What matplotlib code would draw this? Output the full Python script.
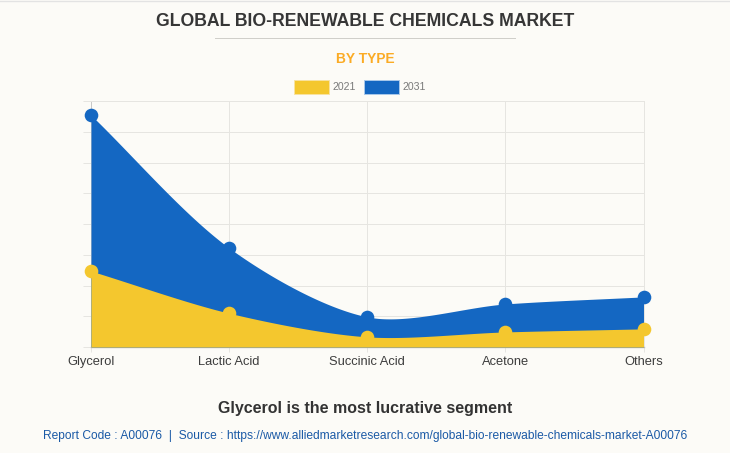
import numpy as np
import matplotlib
matplotlib.use("Agg")
import matplotlib.pyplot as plt
from matplotlib.patches import Patch

categories = ["Glycerol", "Lactic Acid", "Succinic Acid", "Acetone", "Others"]
values_2021 = [2.47, 1.10, 0.33, 0.49, 0.59]
values_2031 = [7.54, 3.22, 0.98, 1.40, 1.63]

W, H = 730, 453
BG = "#fcfbf7"
YELLOW = "#f4c72e"
BLUE = "#1467c2"
GRID = "#e6e5e1"


def smooth_curve(xs, ys, tension=0.3, steps=60):
    """Bezier spline through the points, same way Chart.js does it"""
    pts = np.column_stack([xs, ys]).astype(float)
    n = len(pts)
    out = []
    ctrl_prev = []
    ctrl_next = []
    for i in range(n):
        prev = pts[max(i - 1, 0)]
        cur = pts[i]
        nxt = pts[min(i + 1, n - 1)]
        # distances taken in pixels so the shape matches the screen
        d01 = np.hypot(*((cur - prev) * [138.1, 30.75]))
        d12 = np.hypot(*((nxt - cur) * [138.1, 30.75]))
        total = d01 + d12
        s01 = d01 / total
        s12 = d12 / total
        ctrl_prev.append(cur - tension * s01 * (nxt - prev))
        ctrl_next.append(cur + tension * s12 * (nxt - prev))
    t = np.linspace(0, 1, steps)[:, None]
    for i in range(n - 1):
        p0, p1, p2, p3 = pts[i], ctrl_next[i], ctrl_prev[i + 1], pts[i + 1]
        out.append((1 - t) ** 3 * p0 + 3 * (1 - t) ** 2 * t * p1
                   + 3 * (1 - t) * t ** 2 * p2 + t ** 3 * p3)
    curve = np.vstack(out)
    return curve[:, 0], curve[:, 1]


fig = plt.figure(figsize=(W / 100, H / 100), dpi=100, facecolor=BG)
plt.rcParams["font.family"] = ["Liberation Sans", "DejaVu Sans"]

left, right, top, bottom = 91, 643.5, 101, 347
ax = fig.add_axes([left / W, 1 - bottom / H, (right - left) / W, (bottom - top) / H])
ax.set_facecolor(BG)
ax.set_xlim(0, len(categories) - 1)
ax.set_ylim(0, 8)
x = np.arange(len(categories))

ax.set_xticks(x)
ax.set_xticklabels(categories, fontsize=9.3, color="#3d3d3d")
ax.set_yticks(np.arange(0, 9))
ax.set_yticklabels([])
ax.grid(True, color=GRID, linewidth=0.72)
ax.set_axisbelow(True)
ax.tick_params(axis="x", length=3.6, width=0.72, color=GRID, pad=2.8)
ax.tick_params(axis="y", length=5.8, width=0.72, color=GRID)
for name, spine in ax.spines.items():
    spine.set_color(GRID)
    spine.set_linewidth(0.72)
ax.spines["bottom"].set_color("#bdbdbd")
ax.spines["bottom"].set_linewidth(1)
ax.spines["left"].set_color("#c8c8c8")

# 2031 sits behind, 2021 goes on top of it
for values, color, z in [(values_2031, BLUE, 3), (values_2021, YELLOW, 4)]:
    cx, cy = smooth_curve(x, values)
    ax.fill_between(cx, 0, cy, color=color, linewidth=0, zorder=z)
    ax.plot(x, values, linestyle="none", marker="o", markersize=9.8,
            color=color, markeredgewidth=0, clip_on=False, zorder=z)

fig.text(365.5 / W, 1 - 21 / H, "GLOBAL BIO-RENEWABLE CHEMICALS MARKET", ha="center", va="center",
         fontsize=12.7, fontweight="bold", color="#363636")
fig.add_artist(plt.Line2D([215 / W, 515 / W], [1 - 37.5 / H] * 2, color="#d0cfca", linewidth=0.72))
fig.text(365.5 / W, 1 - 59 / H, "BY TYPE", ha="center", va="center",
         fontsize=9.9, fontweight="bold", color="#fbab24")

handles = [Patch(facecolor=YELLOW, edgecolor="#f9e3a0", linewidth=0.7, label="2021"),
           Patch(facecolor=BLUE, edgecolor="#a9c8ea", linewidth=0.7, label="2031")]
fig.legend(handles=handles, loc="center", bbox_to_anchor=(360 / W, 1 - 87 / H), ncol=2, frameon=False,
           fontsize=7.6, labelcolor="#7a7a7a", handlelength=3.3, handleheight=1.7,
           handletextpad=0.35, columnspacing=0.75, borderpad=0)

fig.text(365 / W, 1 - 408 / H, "Glycerol is the most lucrative segment", ha="center", va="center",
         fontsize=11.5, fontweight="bold", color="#333333")
fig.text(365 / W, 1 - 436 / H,
         "Report Code : A00076  |  Source : https://www.alliedmarketresearch.com/global-bio-renewable-chemicals-market-A00076",
         ha="center", va="center", fontsize=8.65, color="#1b5aa6")

fig.add_artist(plt.Line2D([0, 1], [1 - 0.5 / H] * 2, color="#e3e3e3", linewidth=1))

fig.savefig("out.png", dpi=100, facecolor=BG)
